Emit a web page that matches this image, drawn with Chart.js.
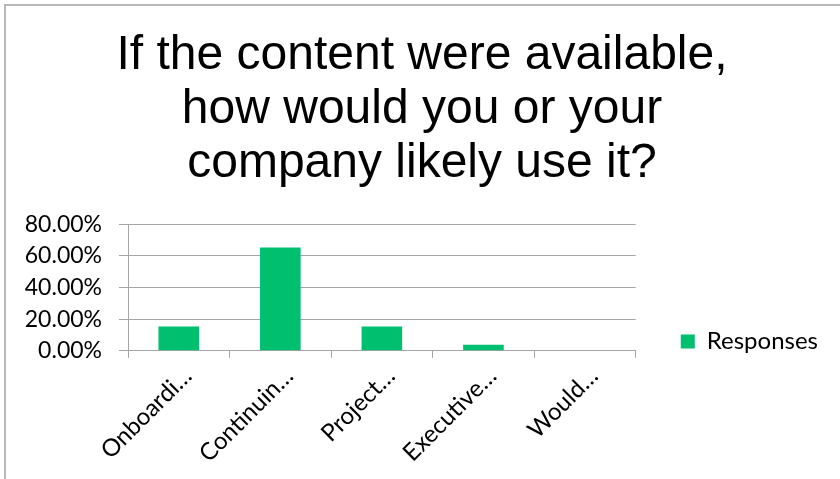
<!DOCTYPE html>
<html>
<head>
<meta charset="utf-8">
<script src="https://cdn.jsdelivr.net/npm/chart.js@4/dist/chart.umd.min.js"></script>
<style>
    html, body { margin: 0; padding: 0; background: #fff; overflow: hidden; }
    #wrap { position: relative; width: 840px; height: 479px; }
    #frame {
        position: absolute; left: 4px; top: 4px; right: -10px; bottom: -10px;
        border: 2px solid #b8b8b8; pointer-events: none;
    }
</style>
</head>
<body>
<div id="wrap">
    <canvas id="myChart" width="840" height="479"></canvas>
    <div id="frame"></div>
</div>
<script>
// survey answers (share of respondents, %)
const categories = ['Onboardi…', 'Continuin…', 'Project…', 'Executive…', 'Would…'];
const responses = [15.38, 65.38, 15.38, 3.85, 0];
const yTicks = [0, 20, 40, 60, 80];
const titleLines = ['If the content were available,', 'how would you or your', 'company likely use it?'];

const gridGray = '#a6a6a6';

const ctx = document.getElementById('myChart').getContext('2d');
const chart = new Chart(ctx, {
    type: 'bar',
    data: {
        labels: categories,
        datasets: [{
            label: 'Responses',
            data: responses,
            backgroundColor: '#00bf6f',
            borderWidth: 0,
            categoryPercentage: 1,
            barPercentage: 0.4
        }]
    },
    options: {
        responsive: false,
        animation: false,
        layout: { padding: { left: 16, right: 12, top: 4, bottom: 7 } },
        plugins: {
            title: {
                display: true,
                text: titleLines,
                color: '#000',
                font: { family: 'Liberation Sans', size: 48, weight: 'normal', lineHeight: 1.12 },
                padding: { top: 25, bottom: 34 }
            },
            legend: {
                position: 'right',
                // blank legend title pushes the single entry down next to the plot
                title: { display: true, text: '', font: { size: 10, lineHeight: 1 }, padding: { top: 197, bottom: 0 } },
                labels: {
                    boxWidth: 14,
                    boxHeight: 14,
                    padding: 45,
                    color: '#000',
                    font: { family: 'Lato', size: 24 }
                }
            },
            tooltip: { enabled: false }
        },
        scales: {
            x: {
                grid: { offset: true, drawOnChartArea: false, tickLength: 7, color: gridGray },
                border: { color: gridGray },
                ticks: {
                    autoSkip: false,
                    maxRotation: 45,
                    minRotation: 45,
                    padding: 4,
                    labelOffset: 9,
                    color: '#000',
                    font: { family: 'Lato', size: 24 }
                }
            },
            y: {
                min: yTicks[0],
                max: yTicks[yTicks.length - 1],
                afterBuildTicks: (axis) => { axis.ticks = yTicks.map(v => ({ value: v })); },
                afterFit: (axis) => { axis.width = 112; },
                grid: { color: gridGray, tickLength: 9 },
                border: { color: gridGray },
                ticks: {
                    autoSkip: false,
                    padding: 17,
                    color: '#000',
                    font: { family: 'Lato', size: 23 },
                    callback: (v) => v.toFixed(2) + '%'
                }
            }
        }
    }
});
</script>
</body>
</html>
